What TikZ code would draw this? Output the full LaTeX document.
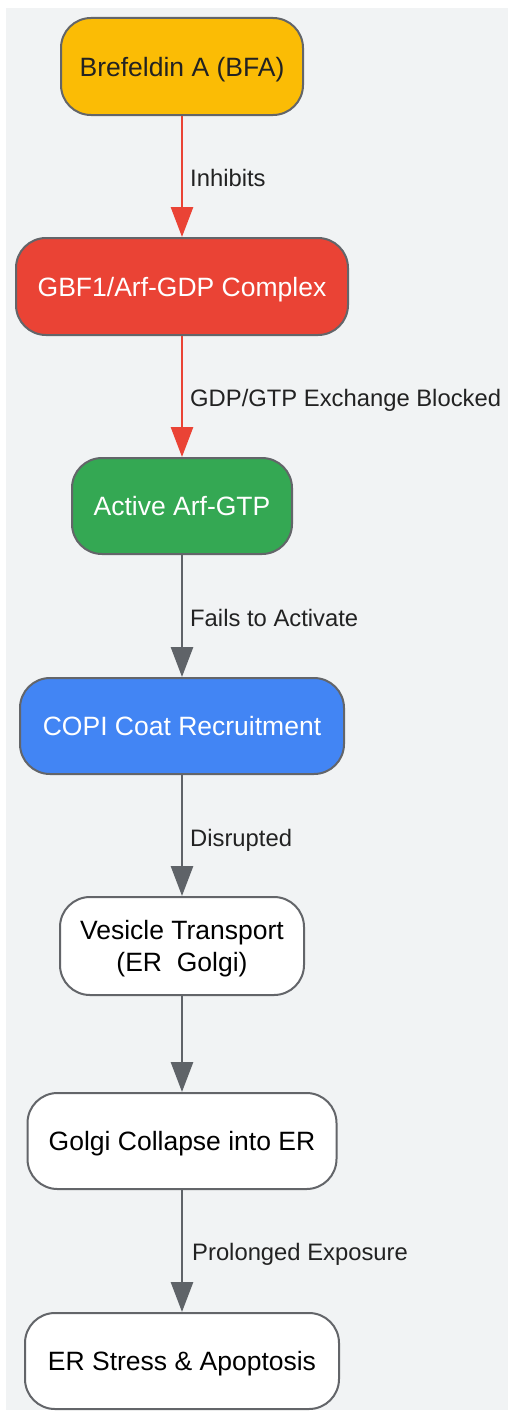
\documentclass[tikz,border=0pt]{standalone}
\usepackage{fontspec}
\setmainfont{Liberation Sans}
\usetikzlibrary{arrows.meta}
\definecolor{bgpanel}{HTML}{F1F3F4}
\definecolor{ybox}{HTML}{FBBC05}
\definecolor{rbox}{HTML}{EA4335}
\definecolor{gbox}{HTML}{34A853}
\definecolor{bbox}{HTML}{4285F4}
\definecolor{edgegray}{HTML}{5F6368}
\definecolor{bordergray}{HTML}{636569}
\definecolor{darktext}{HTML}{222222}
\tikzset{
  boxnode/.style={draw=bordergray, line width=2pt, rounded corners=30pt, align=center,
    font=\fontsize{26.5}{32}\selectfont, inner sep=0pt},
  oneline/.style={boxnode, text depth=0pt},
  conn/.style={line width=2.8pt, -{Triangle[width=22pt,length=30pt]}},
  redconn/.style={conn, draw=rbox, fill=rbox},
  grayconn/.style={conn, draw=edgegray, fill=edgegray},
  elabel/.style={anchor=west, font=\fontsize{23.8}{28}\selectfont, text=darktext, inner sep=0pt, text depth=0pt}
}
\begin{document}
\begin{tikzpicture}[x=1pt,y=-1pt]
\useasboundingbox (0,0) rectangle (508,1413);
\fill[bgpanel] (6,8) rectangle (508,1410);
\node[oneline, fill=ybox, text=darktext, minimum width=242pt, minimum height=97pt] (bfa) at (182,66.5) {Brefeldin A (BFA)};
\node[oneline, fill=rbox, text=white, minimum width=332pt, minimum height=97pt] (gbf) at (182,286.5) {GBF1/Arf-GDP Complex};
\node[oneline, fill=gbox, text=white, minimum width=220pt, minimum height=96pt] (arf) at (182,506) {Active Arf-GTP};
\node[oneline, fill=bbox, text=white, minimum width=324pt, minimum height=96pt] (copi) at (182,726) {COPI Coat Recruitment};
\node[boxnode, fill=white, text=black, minimum width=244pt, minimum height=98pt] (ves) at (182,946) {\raisebox{-3pt}[\height][\depth]{\parbox{240pt}{\centering Vesicle Transport\\(ER\ \ Golgi)}}};
\node[oneline, fill=white, text=black, minimum width=309pt, minimum height=96pt] (gol) at (182,1141) {Golgi Collapse into ER};
\node[oneline, fill=white, text=black, minimum width=314pt, minimum height=96pt] (ers) at (182,1361) {ER Stress \& Apoptosis};
\draw[redconn] (bfa.south) -- (gbf.north);
\draw[redconn] (gbf.south) -- (arf.north);
\draw[grayconn] (arf.south) -- (copi.north);
\draw[grayconn] (copi.south) -- (ves.north);
\draw[grayconn] (ves.south) -- (gol.north);
\draw[grayconn] (gol.south) -- (ers.north);
\node[elabel] (l1) at (190,178) {Inhibits};
\node[elabel] (l2) at (190,398) {GDP/GTP Exchange Blocked};
\node[elabel] (l3) at (190,618) {Fails to Activate};
\node[elabel] (l4) at (190,838) {Disrupted};
\node[elabel] (l5) at (192,1252) {Prolonged Exposure};
\end{tikzpicture}
\end{document}
